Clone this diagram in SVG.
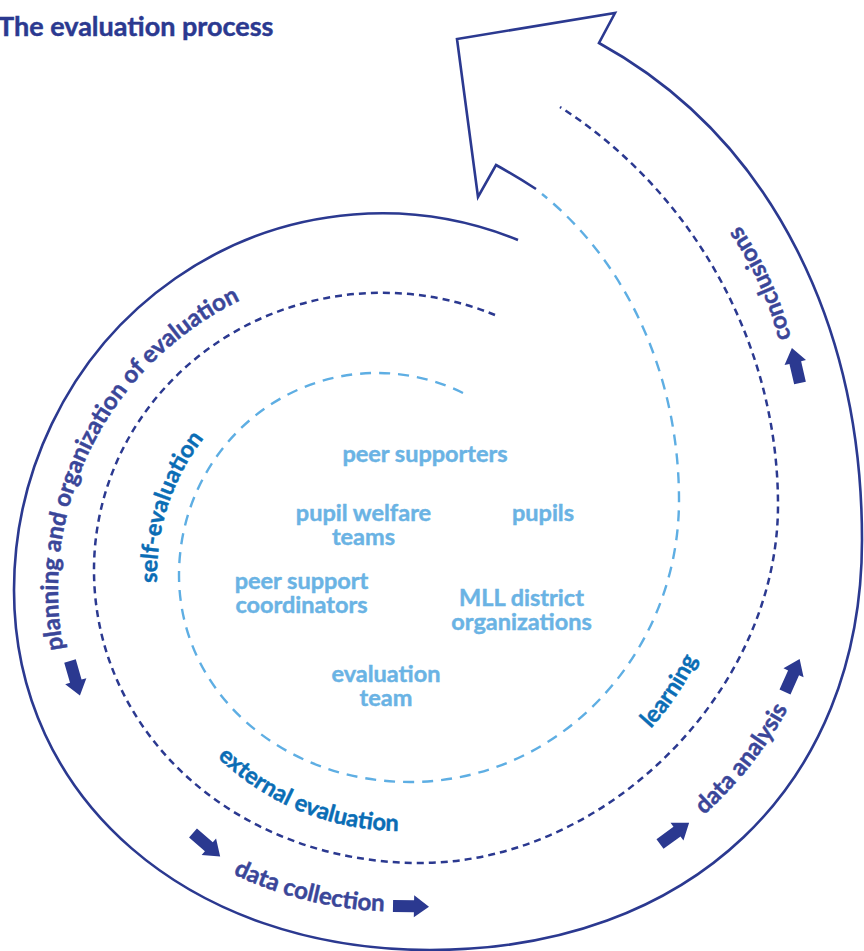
<svg xmlns="http://www.w3.org/2000/svg" xmlns:xlink="http://www.w3.org/1999/xlink" width="864" height="951" viewBox="0 0 864 951">
  <style>
    .navy { fill: none; stroke: #2B3990; stroke-width: 2.6; stroke-linejoin: miter; }
    .dash-dark { fill: none; stroke: #2B3990; stroke-width: 2.5; stroke-dasharray: 7 5; }
    .dash-light { fill: none; stroke: #5EAEE3; stroke-width: 2.4; stroke-dasharray: 11 8; }
    .lbl { font-family: Lato, "Open Sans", "Liberation Sans", sans-serif; font-weight: bold; stroke-width: 0.45; }
    .outer { fill: #3A4699; stroke: #3A4699; font-size: 24px; }
    .mid { fill: #0A6DB5; stroke: #0A6DB5; font-size: 23.5px; }
    .inner { fill: #6AB3E4; stroke: #6AB3E4; font-size: 23.5px; text-anchor: middle; }
    .title { fill: #2B3990; stroke: #2B3990; font-size: 27px; }
    .blk { fill: #2B3990; }
  </style>
  <defs>
    <path id="blk-arrow" d="M0,-6 H21 V-11 L36,0 L21,11 V6 H0 Z"/>
    <path id="p-planning" d="M63.5,649.2 A324,322 0 0,1 298.1,279"/>
    <path id="p-self" d="M157.1,582.8 A223,223 0 0,1 236.7,404.2"/>
    <path id="p-external" d="M217.3,757.2 A263,263 0 0,0 468.1,822"/>
    <path id="p-learning" d="M650.7,728.7 A297,297 0 0,0 722.5,581.6"/>
    <path id="p-collection" d="M233,874 A380,380 0 0,0 430.6,910.1"/>
    <path id="p-analysis" d="M704,815 A400,400 0 0,0 812.4,654.7"/>
    <path id="p-conclusions" d="M791,338 A350,350 0 0,0 699,176.7"/>
  </defs>

  <text class="lbl title" x="-2" y="36">The evaluation process</text>

  <g id="connectors">
    <!-- outer spiral ending in the block arrowhead at the top -->
    <path id="outer-spiral" class="navy" d="M518,240 A368,377 0 0,0 14,590 C14,799 189,950 430,950 C690,950 862,786 862,540 C862,330 775,140 599,43 L615,13 L457,39 L478,197 L496,165 Q516,176 536,189"/>
    <!-- middle dashed spiral -->
    <path id="mid-spiral" class="dash-dark" d="M495,315 A288,277 0 0,0 94,570 C94,734 237,863 420,863 C606,863 778,691 778,505 C778,340 690,190 560,107"/>
    <!-- inner dashed spiral -->
    <path id="inner-spiral" class="dash-light" d="M463,393 A198,202 0 0,0 179,575 C179,691 281,782 410,782 C558,782 679,655 679,500 C679,380 630,265 542,194"/>
    <!-- direction arrows -->
    <use class="blk" xlink:href="#blk-arrow" transform="translate(70,661) rotate(74)"/>
    <use class="blk" xlink:href="#blk-arrow" transform="translate(193,833) rotate(41)"/>
    <use class="blk" xlink:href="#blk-arrow" transform="translate(393,906) rotate(1)"/>
    <use class="blk" xlink:href="#blk-arrow" transform="translate(660,844) rotate(-36)"/>
    <use class="blk" xlink:href="#blk-arrow" transform="translate(785,692) rotate(-66)"/>
    <use class="blk" xlink:href="#blk-arrow" transform="translate(800,383) rotate(-103)"/>
  </g>

  <g id="stage-planning"><text class="lbl outer"><textPath xlink:href="#p-planning">planning and organization of evaluation</textPath></text></g>
  <g id="stage-collection"><text class="lbl outer"><textPath xlink:href="#p-collection">data collection</textPath></text></g>
  <g id="stage-analysis"><text class="lbl outer"><textPath xlink:href="#p-analysis">data analysis</textPath></text></g>
  <g id="stage-conclusions"><text class="lbl outer"><textPath xlink:href="#p-conclusions">conclusions</textPath></text></g>

  <g id="mode-self"><text class="lbl mid"><textPath xlink:href="#p-self">self-evaluation</textPath></text></g>
  <g id="mode-external"><text class="lbl mid"><textPath xlink:href="#p-external">external evaluation</textPath></text></g>
  <g id="mode-learning"><text class="lbl mid"><textPath xlink:href="#p-learning">learning</textPath></text></g>

  <g id="actor-peer-supporters"><text class="lbl inner" x="425" y="462">peer supporters</text></g>
  <g id="actor-welfare-teams"><text class="lbl inner" x="363.5" y="521">pupil welfare</text><text class="lbl inner" x="363.5" y="545">teams</text></g>
  <g id="actor-pupils"><text class="lbl inner" x="543" y="521">pupils</text></g>
  <g id="actor-coordinators"><text class="lbl inner" x="301.5" y="589">peer support</text><text class="lbl inner" x="301.5" y="613">coordinators</text></g>
  <g id="actor-mll"><text class="lbl inner" x="521.5" y="606">MLL district</text><text class="lbl inner" x="521.5" y="630">organizations</text></g>
  <g id="actor-eval-team"><text class="lbl inner" x="386" y="682">evaluation</text><text class="lbl inner" x="386" y="706">team</text></g>
</svg>
